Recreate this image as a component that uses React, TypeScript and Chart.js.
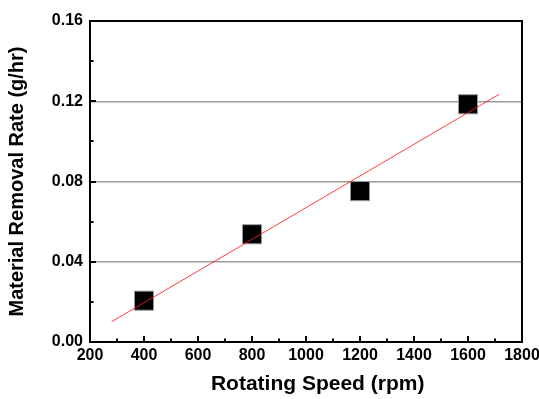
import React, { useEffect, useRef } from "react";
import { Chart, registerables } from "chart.js";

Chart.register(...registerables);

const speeds = [400, 800, 1200, 1600];
const removalRates = [0.0206, 0.0537, 0.0752, 0.1185];
const fitX = [280, 1716];
const fitY = [0.0101, 0.1235];
const xTickValues = [200, 400, 600, 800, 1000, 1200, 1400, 1600, 1800];
const yTickValues = [0, 0.04, 0.08, 0.12, 0.16];
const gridValues = [0.04, 0.08, 0.12];

const FONT = "'Liberation Sans', Arial, sans-serif";

const framePlugin = {
  id: "frameTicks",
  afterDatasetsDraw(chart: any) {
    const { ctx, chartArea } = chart;
    const { left, right, top, bottom } = chartArea;
    const xs = chart.scales.x;
    const ys = chart.scales.y;
    ctx.save();
    ctx.strokeStyle = "#000";
    ctx.lineWidth = 2;
    ctx.beginPath();
    ctx.rect(left, top, right - left, bottom - top);
    ctx.stroke();
    ctx.lineWidth = 2;
    ctx.beginPath();
    for (let i = 0; i < xTickValues.length; i++) {
      const v = xTickValues[i];
      const px = Math.round(xs.getPixelForValue(v));
      if (i > 0 && i < xTickValues.length - 1) {
        ctx.moveTo(px, bottom);
        ctx.lineTo(px, bottom - 6);
      }
      if (i < xTickValues.length - 1) {
        const m = Math.round(xs.getPixelForValue((v + xTickValues[i + 1]) / 2));
        ctx.moveTo(m, bottom);
        ctx.lineTo(m, bottom - 3.5);
      }
    }
    for (let i = 0; i < yTickValues.length; i++) {
      const v = yTickValues[i];
      const py = Math.round(ys.getPixelForValue(v));
      if (i > 0 && i < yTickValues.length - 1) {
        ctx.moveTo(left, py);
        ctx.lineTo(left + 6, py);
      }
      if (i < yTickValues.length - 1) {
        const m = Math.round(ys.getPixelForValue((v + yTickValues[i + 1]) / 2));
        ctx.moveTo(left, m);
        ctx.lineTo(left + 3.5, m);
      }
    }
    ctx.stroke();
    ctx.restore();
  },
};

const bgPlugin = {
  id: "bg",
  beforeDraw(chart: any) {
    const { ctx, width, height } = chart;
    ctx.save();
    ctx.fillStyle = "#ffffff";
    ctx.fillRect(0, 0, width, height);
    ctx.restore();
  },
};

export default function App() {
  const ref = useRef<HTMLCanvasElement>(null);
  useEffect(() => {
    document.body.style.margin = "0";
    if (!ref.current) return;
    const chart = new Chart(ref.current, {
      type: "scatter",
      data: {
        datasets: [
          {
            type: "line",
            label: "fit",
            data: fitX.map((x, i) => ({ x, y: fitY[i] })),
            borderColor: "rgba(255,30,30,0.85)",
            borderWidth: 1,
            pointRadius: 0,
            showLine: true,
            fill: false,
            order: 0,
          } as any,
          {
            label: "data",
            data: speeds.map((x, i) => ({ x, y: removalRates[i] })),
            pointStyle: "rect",
            pointRadius: 13.5,
            pointHoverRadius: 13.5,
            backgroundColor: "#000000",
            borderColor: "#9a9a9a",
            borderWidth: 1,
            order: 1,
          },
        ],
      },
      options: {
        animation: false,
        responsive: false,
        maintainAspectRatio: false,
        events: [],
        layout: { padding: { left: 0, top: 21, right: 17, bottom: 0 } },
        plugins: {
          legend: { display: false },
          tooltip: { enabled: false },
        },
        scales: {
          x: {
            type: "linear",
            min: 200,
            max: 1800,
            afterBuildTicks: (s: any) => {
              s.ticks = xTickValues.map((v) => ({ value: v }));
            },
            ticks: {
              color: "#000",
              font: { family: FONT, size: 16, weight: "bold" },
              padding: 4,
              maxRotation: 0,
              autoSkip: false,
              callback: (v: any) => String(v),
            },
            grid: { display: false, drawTicks: false },
            border: { display: false },
            title: {
              display: true,
              text: "\u00a0\u00a0\u00a0\u00a0Rotating Speed (rpm)",
              color: "#000",
              font: { family: FONT, size: 21, weight: "bold" },
              padding: { top: 4, bottom: 2 },
            },
            afterFit: (s: any) => {
              s.height = 57;
              s.paddingLeft = 0;
              s.paddingRight = 0;
            },
          },
          y: {
            type: "linear",
            min: 0,
            max: 0.16,
            afterBuildTicks: (s: any) => {
              s.ticks = yTickValues.map((v) => ({ value: v }));
            },
            ticks: {
              color: "#000",
              font: { family: FONT, size: 16, weight: "bold" },
              padding: 7,
              autoSkip: false,
              callback: (v: any) => Number(v).toFixed(2),
            },
            grid: {
              drawTicks: false,
              lineWidth: 1.5,
              color: (c: any) =>
                gridValues.some((g) => Math.abs(g - c.tick?.value) < 1e-6)
                  ? "#9c9c9c"
                  : "rgba(0,0,0,0)",
            },
            border: { display: false },
            title: {
              display: true,
              text: "Material Removal Rate (g/hr)",
              color: "#000",
              font: { family: FONT, size: 20, weight: "bold" },
              padding: { top: 5, bottom: 2 },
            },
            afterFit: (s: any) => {
              s.width = 90;
              s.paddingTop = 0;
              s.paddingBottom = 0;
            },
          },
        },
      },
      plugins: [bgPlugin, framePlugin],
    });
    return () => chart.destroy();
  }, []);
  return (
    <div style={{ width: 539, height: 399 }}>
      <canvas ref={ref} width={539} height={399} style={{ display: "block" }} />
    </div>
  );
}
